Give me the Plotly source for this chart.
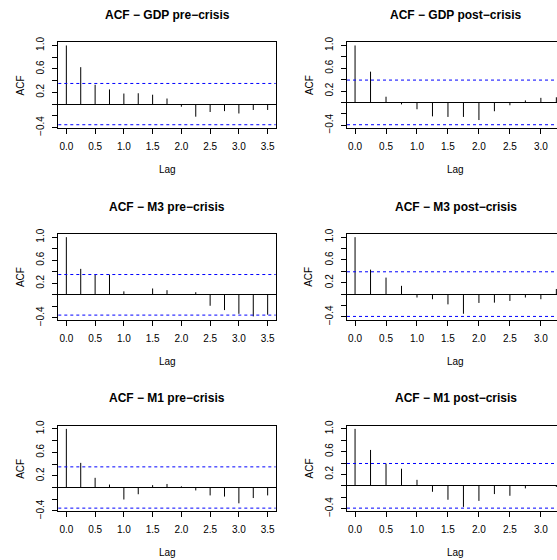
import plotly.graph_objects as go

# ---------------- data ----------------
lags_pre = [0.0, 0.25, 0.5, 0.75, 1.0, 1.25, 1.5, 1.75, 2.0, 2.25, 2.5, 2.75, 3.0, 3.25, 3.5]
lags_post = [0.0, 0.25, 0.5, 0.75, 1.0, 1.25, 1.5, 1.75, 2.0, 2.25, 2.5, 2.75, 3.0, 3.25]

gdp_pre = [1.0, 0.63, 0.33, 0.25, 0.18, 0.185, 0.16, 0.095, -0.045, -0.215, -0.135, -0.12, -0.16, -0.10, -0.10]
gdp_post = [1.0, 0.54, 0.10, -0.035, -0.12, -0.245, -0.255, -0.255, -0.31, -0.155, -0.05, 0.035, 0.08, 0.09]
m3_pre = [1.0, 0.45, 0.35, 0.35, 0.06, 0.01, 0.11, 0.08, 0.01, 0.045, -0.19, -0.265, -0.33, -0.375, -0.345]
m3_post = [1.0, 0.43, 0.29, 0.145, -0.06, -0.09, -0.18, -0.345, -0.155, -0.15, -0.12, -0.06, -0.09, 0.09]
m1_pre = [1.0, 0.42, 0.165, 0.05, -0.205, -0.115, 0.04, 0.06, 0.02, -0.05, -0.135, -0.155, -0.27, -0.18, -0.135]
m1_post = [1.0, 0.63, 0.39, 0.30, 0.105, -0.105, -0.245, -0.37, -0.265, -0.145, -0.175, -0.045, 0.01, -0.02]

ci_pre = 0.352
ci_post = 0.392

titles = ["ACF − GDP pre−crisis", "ACF − GDP post−crisis",
          "ACF − M3 pre−crisis", "ACF − M3 post−crisis",
          "ACF − M1 pre−crisis", "ACF − M1 post−crisis"]
y_tickvals = [-0.4, -0.2, 0.0, 0.2, 0.4, 0.6, 0.8, 1.0]
y_ticktext = ["−0.4", "", "", "0.2", "", "0.6", "", "1.0"]
x_tickvals = [0.0, 0.5, 1.0, 1.5, 2.0, 2.5, 3.0, 3.5]
x_ticktext = ["0.0", "0.5", "1.0", "1.5", "2.0", "2.5", "3.0", "3.5"]

panels = [
    (titles[0], lags_pre, gdp_pre, ci_pre),
    (titles[1], lags_post, gdp_post, ci_post),
    (titles[2], lags_pre, m3_pre, ci_pre),
    (titles[3], lags_post, m3_post, ci_post),
    (titles[4], lags_pre, m1_pre, ci_pre),
    (titles[5], lags_post, m1_post, ci_post),
]

# ---------------- layout geometry (pixels) ----------------
W, H = 557, 560
FONT = "Liberation Sans, Arial, Helvetica, sans-serif"
row_top = [42.3, 234.0, 425.7]
box_h = 85.6
col_left = [58.3, 347.0]
col_full_w = 217.4            # full plot-box width (right column is cropped)
row_period = 191.7

def px_x(p):
    return p / W

def px_y(p):
    return 1 - p / H

fig = go.Figure()
layout = dict(
    template="none",
    width=W, height=H, autosize=False,
    margin=dict(l=0, r=0, t=0, b=0, pad=0, autoexpand=False),
    paper_bgcolor="white", plot_bgcolor="white",
    showlegend=False,
    font=dict(family=FONT, size=10, color="black"),
)
shapes = []
annotations = []

for i, (title, lags, acf, ci) in enumerate(panels):
    r, c = divmod(i, 2)
    k = i + 1
    xa = "xaxis" if k == 1 else f"xaxis{k}"
    ya = "yaxis" if k == 1 else f"yaxis{k}"
    xr_ = "x" if k == 1 else f"x{k}"
    yr_ = "y" if k == 1 else f"y{k}"

    # R style axis limits: 4% extension of data range
    xmax = lags[-1]
    xext = 0.04 * xmax
    x_full = [-xext, xmax + xext]
    left = col_left[c]
    right_full = left + col_full_w
    right_vis = min(right_full, W)
    x_vis = [x_full[0], x_full[0] + (right_vis - left) / col_full_w * (x_full[1] - x_full[0])]

    lo = min(-ci, min(acf))
    hi = max(ci, max(acf))
    yext = 0.04 * (hi - lo)
    y_range = [lo - yext, hi + yext]

    top = row_top[r]
    bottom = top + box_h

    # vertical ACF spikes
    xs, ys = [], []
    for l, v in zip(lags, acf):
        xs += [l, l, None]
        ys += [0, v, None]
    fig.add_trace(go.Scatter(x=xs, y=ys, mode="lines",
                             line=dict(color="black", width=1),
                             hoverinfo="skip", xaxis=xr_, yaxis=yr_))

    layout[xa] = dict(
        domain=[px_x(left), px_x(right_vis)], anchor=yr_,
        range=x_vis, showgrid=False, zeroline=False, automargin=False,
        showline=True, mirror=True, linecolor="black", linewidth=1,
        ticks="outside", ticklen=5, tickwidth=1, tickcolor="black",
        tickvals=x_tickvals, ticktext=x_ticktext,
        tickfont=dict(family=FONT, size=10, color="black"),
        ticklabelstandoff=4,
    )
    layout[ya] = dict(
        domain=[px_y(bottom), px_y(top)], anchor=xr_,
        range=y_range, showgrid=False, automargin=False,
        zeroline=True, zerolinecolor="black", zerolinewidth=1,
        showline=True, mirror=(c == 0), linecolor="black", linewidth=1,
        ticks="outside", ticklen=5, tickwidth=1, tickcolor="black",
        tickvals=y_tickvals, ticktext=y_ticktext, tickangle=-90,
        tickfont=dict(family=FONT, size=10, color="black"),
        ticklabelstandoff=4,
    )

    # confidence bounds
    for yv in (ci, -ci):
        shapes.append(dict(type="line", xref=f"{xr_} domain", yref=yr_,
                           x0=0, x1=1, y0=yv, y1=yv,
                           line=dict(color="#0000FF", width=1, dash="3px,3px")))

    cx = left + col_full_w / 2
    annotations.append(dict(text=f"<b>{title}</b>", xref="paper", yref="paper",
                            x=px_x(cx), y=px_y(15 + r * row_period),
                            xanchor="center", yanchor="middle", showarrow=False,
                            font=dict(family=FONT, size=12, color="black")))
    annotations.append(dict(text="Lag", xref="paper", yref="paper",
                            x=px_x(cx), y=px_y(169.5 + r * row_period),
                            xanchor="center", yanchor="middle", showarrow=False,
                            font=dict(family=FONT, size=10, color="black")))
    annotations.append(dict(text="ACF", xref="paper", yref="paper",
                            x=px_x(left - 38), y=px_y((top + bottom) / 2),
                            xanchor="center", yanchor="middle", showarrow=False,
                            textangle=-90,
                            font=dict(family=FONT, size=10, color="black")))

layout["shapes"] = shapes
layout["annotations"] = annotations
fig.update_layout(**layout)
fig.write_html(
    "out.html",
    config={"displayModeBar": False},
    post_script="document.body.style.margin='0';document.body.style.overflow='hidden';",
)
